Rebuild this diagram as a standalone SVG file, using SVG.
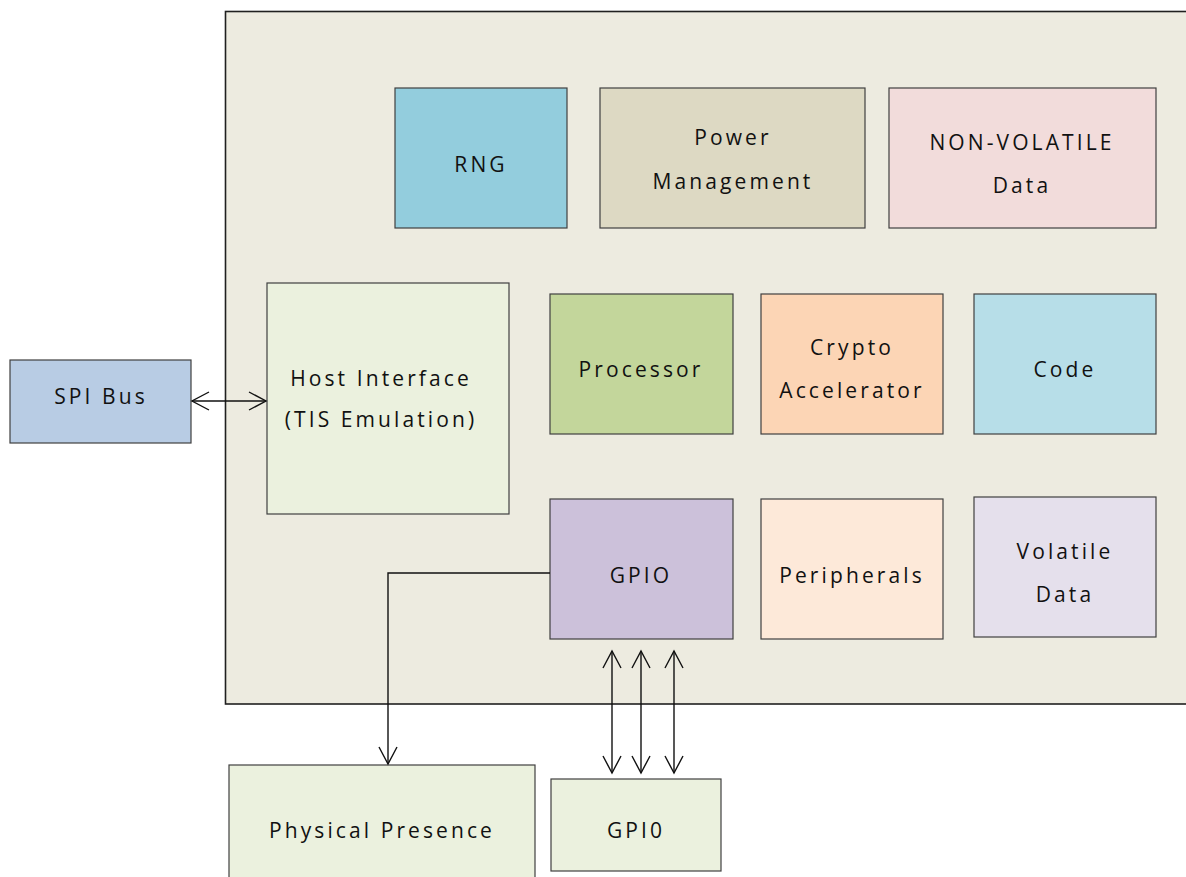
<svg xmlns="http://www.w3.org/2000/svg" width="1186" height="877" viewBox="0 0 1186 877">
<defs>
<style>
.box{stroke:#404040;stroke-width:1.2}
.t{font-family:"Open Sans","Liberation Sans",sans-serif;font-size:21px;letter-spacing:3.1px;fill:#111111;text-anchor:middle}
.c{fill:none;stroke:#111;stroke-width:1.4}
</style>
<marker id="ah" viewBox="0 0 20 20" refX="18" refY="10" markerWidth="20" markerHeight="20" markerUnits="userSpaceOnUse" orient="auto-start-reverse">
<path d="M1,1 L18,10 L1,19" fill="none" stroke="#111" stroke-width="1.4"/>
</marker>
</defs>
<rect width="1186" height="877" fill="#ffffff"/>
<g id="chip">
<rect x="225.5" y="11.5" width="970" height="692.5" fill="#EDEBE0" stroke="#202020" stroke-width="1.6"/>
</g>
<g id="spi"><rect class="box" x="10" y="360" width="181" height="83" fill="#B8CCE4"/><text class="t" x="101" y="404">SPI Bus</text></g>
<g id="host"><rect class="box" x="267" y="283" width="242" height="231" fill="#EBF1DE"/><text class="t" x="381" y="386">Host Interface</text><text class="t" x="381" y="427">(TIS Emulation)</text></g>
<g id="rng"><rect class="box" x="395" y="88" width="172" height="140" fill="#93CDDD"/><text class="t" x="481" y="172">RNG</text></g>
<g id="power"><rect class="box" x="600" y="88" width="265" height="140" fill="#DDD9C3"/><text class="t" x="733" y="145">Power</text><text class="t" x="733" y="189">Management</text></g>
<g id="nvdata"><rect class="box" x="889" y="88" width="267" height="140" fill="#F2DCDB"/><text class="t" x="1022" y="150">NON-VOLATILE</text><text class="t" x="1022" y="193">Data</text></g>
<g id="processor"><rect class="box" x="550" y="294" width="183" height="140" fill="#C3D69B"/><text class="t" x="641" y="377">Processor</text></g>
<g id="crypto"><rect class="box" x="761" y="294" width="182" height="140" fill="#FCD5B5"/><text class="t" x="852" y="355">Crypto</text><text class="t" x="852" y="398">Accelerator</text></g>
<g id="code"><rect class="box" x="974" y="294" width="182" height="140" fill="#B7DEE8"/><text class="t" x="1065" y="377">Code</text></g>
<g id="gpio"><rect class="box" x="550" y="499" width="183" height="140" fill="#CCC1DA"/><text class="t" x="641" y="583">GPIO</text></g>
<g id="peripherals"><rect class="box" x="761" y="499" width="182" height="140" fill="#FDE9D9"/><text class="t" x="852" y="583">Peripherals</text></g>
<g id="vdata"><rect class="box" x="974" y="497" width="182" height="140" fill="#E5E0EC"/><text class="t" x="1065" y="559">Volatile</text><text class="t" x="1065" y="602">Data</text></g>
<g id="physical"><rect class="box" x="229" y="765" width="306" height="120" fill="#EBF1DE"/><text class="t" x="382" y="838">Physical Presence</text></g>
<g id="gpi0"><rect class="box" x="551" y="779" width="170" height="92" fill="#EBF1DE"/><text class="t" x="636" y="838">GPI0</text></g>
<g id="connectors">
<line class="c" x1="192" y1="401" x2="266" y2="401" marker-start="url(#ah)" marker-end="url(#ah)"/>
<polyline class="c" points="550,573 388,573 388,764" marker-end="url(#ah)"/>
<line class="c" x1="612" y1="651" x2="612" y2="773" marker-start="url(#ah)" marker-end="url(#ah)"/>
<line class="c" x1="641" y1="651" x2="641" y2="773" marker-start="url(#ah)" marker-end="url(#ah)"/>
<line class="c" x1="674" y1="651" x2="674" y2="773" marker-start="url(#ah)" marker-end="url(#ah)"/>
</g>
</svg>
